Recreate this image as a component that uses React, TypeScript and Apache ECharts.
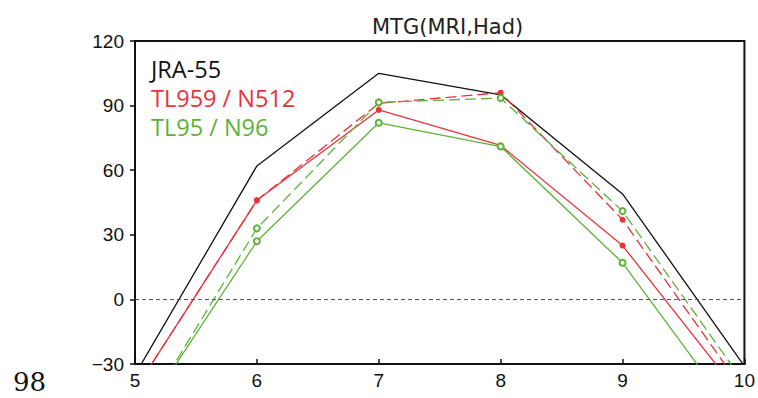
import React, { useEffect, useRef } from "react";
import * as echarts from "echarts";

const months = [5, 6, 7, 8, 9, 10];
const jra55 = [-35, 62, 105, 95, 49, -31];
const tl959Solid = [-42, 46, 88, 71.5, 25, -47];
const tl959Dashed = [-42, 46, 91, 96, 37, -43];
const tl95Solid = [-59, 27, 82, 71, 17, -60];
const tl95Dashed = [-60, 33, 91.5, 93.5, 41, -39];
const yTicks = [-30, 0, 30, 60, 90, 120];
const titleText = "MTG(MRI,Had)";
const legendNames = ["JRA-55", "TL959 / N512", "TL95 / N96"];
const panelLabel = "98";

const RED = "#e8323c";
const GREEN = "#5cb338";

function pts(vals: number[], withSymbols: boolean) {
  return months.map((m, i) => {
    const edge = i === 0 || i === months.length - 1;
    return withSymbols && !edge ? { value: [m, vals[i]] } : { value: [m, vals[i]], symbol: "none" };
  });
}

export default function App() {
  const ref = useRef<HTMLDivElement>(null);
  useEffect(() => {
    if (!ref.current) return;
    const chart = echarts.init(ref.current, null, { renderer: "svg" });
    const lineBase = { type: "line", clip: true, animation: false, z: 3 };
    const legendStyle = (color: string, text: string) => ({
      text,
      fill: color,
      fontFamily: "Open Sans",
      fontSize: 23.5,
      lineHeight: 25,
      verticalAlign: "middle",
    });
    chart.setOption({
      animation: false,
      backgroundColor: "#fff",
      title: {
        text: titleText,
        left: 367,
        top: 11,
        textStyle: { fontFamily: "DejaVu Sans", fontSize: 21, fontWeight: "normal", color: "#222" },
      },
      grid: {
        left: 135,
        right: 13,
        top: 41,
        bottom: 34,
        show: true,
        borderColor: "#111",
        borderWidth: 2,
        backgroundColor: "transparent",
      },
      xAxis: {
        type: "value",
        min: 5,
        max: 10,
        interval: 1,
        splitLine: { show: false },
        axisLine: { show: true, onZero: false, lineStyle: { color: "#111", width: 2 } },
        axisTick: { show: true, inside: true, length: 5, lineStyle: { color: "#111", width: 1.5 } },
        axisLabel: { fontFamily: "Liberation Sans", fontSize: 19, color: "#111", margin: 7 },
      },
      yAxis: {
        type: "value",
        min: yTicks[0],
        max: yTicks[yTicks.length - 1],
        interval: yTicks[1] - yTicks[0],
        splitLine: { show: false },
        axisLine: { show: true, onZero: false, lineStyle: { color: "#111", width: 2 } },
        axisTick: { show: true, inside: false, length: 5, lineStyle: { color: "#111", width: 1.5 } },
        axisLabel: {
          fontFamily: "Liberation Sans",
          fontSize: 19,
          color: "#111",
          margin: 11,
          formatter: (v: number) => String(v).replace("-", "\u2212"),
        },
      },
      series: [
        {
          ...lineBase,
          name: legendNames[0],
          data: pts(jra55, false),
          symbol: "none",
          lineStyle: { color: "#111", width: 1.3 },
          markLine: {
            silent: true,
            symbol: "none",
            label: { show: false },
            lineStyle: { color: "#555", type: [4, 3], width: 1 },
            data: [{ yAxis: 0 }],
          },
        },
        {
          ...lineBase,
          name: legendNames[1],
          data: pts(tl959Dashed, true),
          symbol: "circle",
          symbolSize: 6,
          itemStyle: { color: RED, borderWidth: 0 },
          lineStyle: { color: RED, width: 1.3, type: [11, 5] },
        },
        {
          ...lineBase,
          name: legendNames[1] + " solid",
          data: pts(tl959Solid, true),
          symbol: "circle",
          symbolSize: 6,
          itemStyle: { color: RED, borderWidth: 0 },
          lineStyle: { color: RED, width: 1.3 },
        },
        {
          ...lineBase,
          name: legendNames[2],
          data: pts(tl95Dashed, true),
          symbol: "emptyCircle",
          symbolSize: 6,
          itemStyle: { color: GREEN, borderColor: GREEN, borderWidth: 1.2 },
          lineStyle: { color: GREEN, width: 1.3, type: [11, 5] },
        },
        {
          ...lineBase,
          name: legendNames[2] + " solid",
          data: pts(tl95Solid, true),
          symbol: "emptyCircle",
          symbolSize: 6,
          itemStyle: { color: GREEN, borderColor: GREEN, borderWidth: 1.2 },
          lineStyle: { color: GREEN, width: 1.3 },
        },
      ],
      graphic: [
        { type: "text", x: 151, y: 69, style: legendStyle("#111", legendNames[0]) },
        { type: "text", x: 151, y: 98, style: legendStyle(RED, legendNames[1]) },
        { type: "text", x: 151, y: 127, style: legendStyle(GREEN, legendNames[2]) },
        {
          type: "text",
          x: 13,
          y: 382,
          style: {
            text: panelLabel,
            fill: "#111",
            font: "26px 'DejaVu Serif', serif",
            verticalAlign: "middle",
          },
        },
      ],
    });
    return () => chart.dispose();
  }, []);
  return <div ref={ref} style={{ width: 758, height: 398, position: "fixed", left: 0, top: 0 }} />;
}
